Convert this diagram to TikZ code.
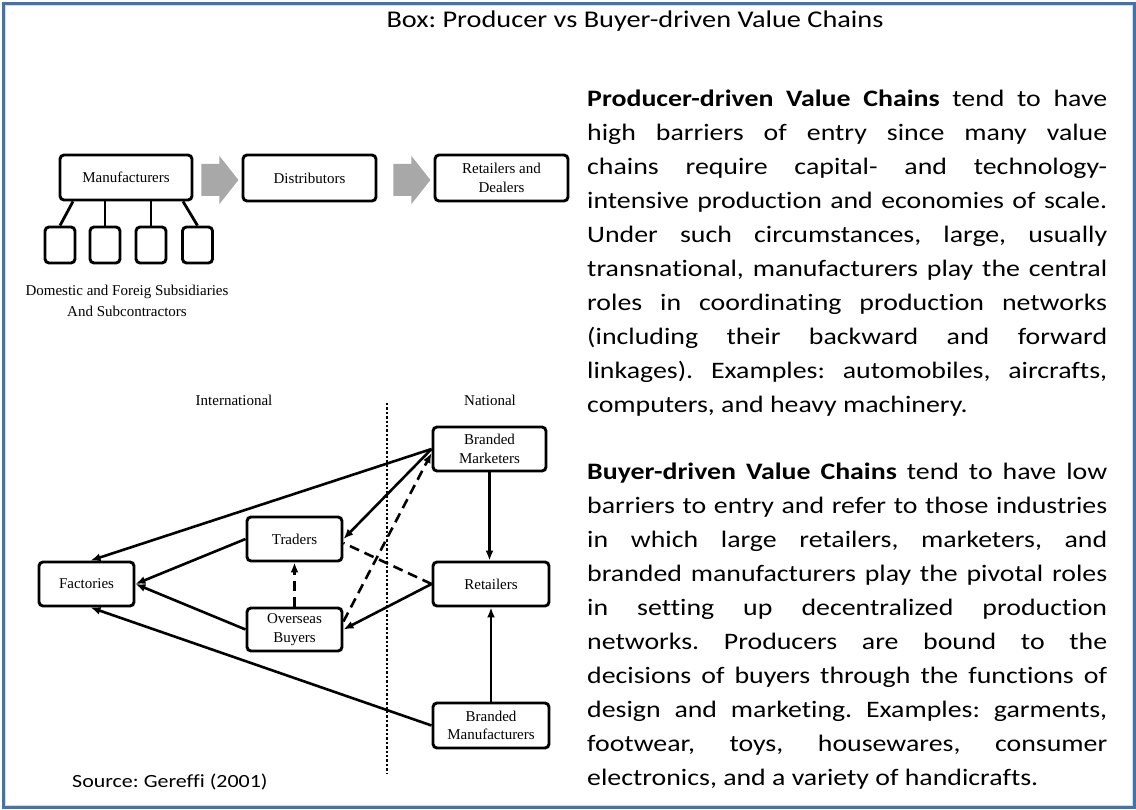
\documentclass[tikz,border=0pt]{standalone}
\usepackage{fontspec}
\setmainfont{Carlito}[FakeStretch=1.18, Ligatures=NoCommon]
\newfontfamily\diafont{Liberation Serif}
\usetikzlibrary{arrows.meta}
\frenchspacing

\definecolor{frameblue}{RGB}{68,114,170}
\definecolor{framelight}{RGB}{205,220,240}
\definecolor{blockgray}{RGB}{168,168,168}

\tikzset{
  box/.style={draw, line width=2.9pt, rounded corners=4pt, align=center, inner sep=0pt,
    font={\diafont\fontsize{15}{18.5}\selectfont}},
  subbox/.style={draw, line width=2.9pt, rounded corners=4pt, minimum width=30pt, minimum height=36pt},
  tie/.style={line width=2.8pt},
  link/.style={line width=2.6pt, -{Latex[length=10pt,width=8pt]}},
  dashlink/.style={link, dash pattern=on 10pt off 6pt},
  dashplain/.style={line width=2.6pt, dash pattern=on 10pt off 6pt},
  serif/.style={font={\diafont\fontsize{15}{21}\selectfont}, align=center, inner sep=0pt},
  para/.style={anchor=north west, inner sep=0pt, text width=520pt, align=justify,
    font=\fontsize{23.6}{34}\selectfont}
}

\begin{document}
\begin{tikzpicture}[x=1pt, y=-1pt]
  \useasboundingbox (0,0) rectangle (1136,810);
  \draw[frameblue, line width=2.6pt] (3.3,3.8) rectangle (1134.5,807.3);
  \draw[framelight, line width=1pt] (5.6,6) rectangle (1132.2,805);

  \node[anchor=base, inner sep=0pt, font=\fontsize{24}{29}\selectfont] (title) at (635,28)
    {Box: Producer vs Buyer-driven Value Chains};

  % producer-driven chain
  \node[box, minimum width=132pt, minimum height=45pt] (mfr) at (126,177.5) {Manufacturers};
  \node[box, minimum width=133pt, minimum height=46pt] (dist) at (309.5,178) {Distributors};
  \node[box, minimum width=133pt, minimum height=46pt] (retdeal) at (501.5,178) {Retailers and\\Dealers};
  \foreach \x [count=\i] in {60,105,151,197.5}
    \node[subbox] (sub\i) at (\x,245) {};
  \draw[tie] ([xshift=-53pt]mfr.south) -- (sub1.north);
  \draw[tie] (mfr.south -| sub2.north) -- (sub2.north);
  \draw[tie] (mfr.south -| sub3.north) -- (sub3.north);
  \draw[tie] ([xshift=57pt]mfr.south) -- (sub4.north);
  \fill[blockgray] ([shift={(8pt,-2.5pt)}]mfr.east) ++(0,-16) -- ++(18,0) -- ++(0,-8) -- ++(19,24)
    -- ++(-19,24) -- ++(0,-8) -- ++(-18,0) -- cycle;
  \fill[blockgray] ([shift={(16pt,-2pt)}]dist.east) ++(0,-16) -- ++(18,0) -- ++(0,-8) -- ++(19,24)
    -- ++(-19,24) -- ++(0,-8) -- ++(-18,0) -- cycle;
  \node[serif] (subtext) at (127,301) {Domestic and Foreig Subsidiaries\\And Subcontractors};

  % buyer-driven chain
  \node[serif] (intl) at (234,400) {International};
  \node[serif] (natl) at (490,400) {National};
  \coordinate (bordtop) at (387,403);
  \coordinate (bordbot) at (387,773);
  \draw[line width=2.6pt, dash pattern=on 2.4pt off 2pt] (bordtop) -- (bordbot);

  \node[box, minimum width=113pt, minimum height=44pt] (bmark) at (489.5,449) {Branded\\Marketers};
  \node[box, minimum width=95pt, minimum height=44pt] (traders) at (294.5,539) {Traders};
  \node[box, minimum width=95pt, minimum height=44pt] (factories) at (86.5,584) {Factories};
  \node[box, minimum width=116pt, minimum height=44pt] (retailers) at (491,584) {Retailers};
  \node[box, minimum width=95pt, minimum height=43pt] (obuyers) at (294.5,629.5) {Overseas\\Buyers};
  \node[box, minimum width=116pt, minimum height=45pt] (bmanu) at (491,725.5) {Branded\\Manufacturers};

  \draw[link] (bmark.west) -- ([xshift=4pt]factories.north);
  \draw[link] (bmark.west) -- (traders.east);
  \draw[dashlink] ([yshift=8pt]obuyers.east) -- ([yshift=-4pt]bmark.west);
  \draw[dashplain] (retailers.west) -- ([yshift=-4pt]traders.east);
  \draw[link] (retailers.west) -- (obuyers.east);
  \draw[dashlink] (obuyers.north) -- (traders.south);
  \draw[link] (traders.west) -- (factories.east);
  \draw[link] (obuyers.west) -- (factories.east);
  \draw[link] (bmanu.west) -- ([xshift=4pt]factories.south);
  \draw[link] (bmark.south) -- (bmark.south |- retailers.north);
  \draw[link] (bmanu.north) -- (retailers.south);

  \node[anchor=base west, inner sep=0pt, font=\fontsize{18.6}{22}\selectfont] (source) at (72,787)
    {Source: Gereffi (2001)};

  % text column
  \node[para] (prodtext) at (587,82.2) {\tolerance=9999\hbadness=10000\strut
    \textbf{Producer-driven Value Chains} tend to have\linebreak
    high barriers of entry since many value\linebreak
    chains require capital- and technology-\linebreak
    intensive production and economies of scale.\linebreak
    Under such circumstances, large, usually\linebreak
    transnational, manufacturers play the central\linebreak
    roles in coordinating production networks\linebreak
    (including their backward and forward\linebreak
    linkages). Examples: automobiles, aircrafts,\linebreak
    computers, and heavy machinery.};
  \node[para] (buyertext) at (587,455.2) {\tolerance=9999\hbadness=10000\strut
    \textbf{Buyer-driven Value Chains} tend to have low\linebreak
    barriers to entry and refer to those industries\linebreak
    in which large retailers, marketers, and\linebreak
    branded manufacturers play the pivotal roles\linebreak
    in setting up decentralized production\linebreak
    networks. Producers are bound to the\linebreak
    decisions of buyers through the functions of\linebreak
    design and marketing. Examples: garments,\linebreak
    footwear, toys, housewares, consumer\linebreak
    electronics, and a variety of handicrafts.};
\end{tikzpicture}
\end{document}
